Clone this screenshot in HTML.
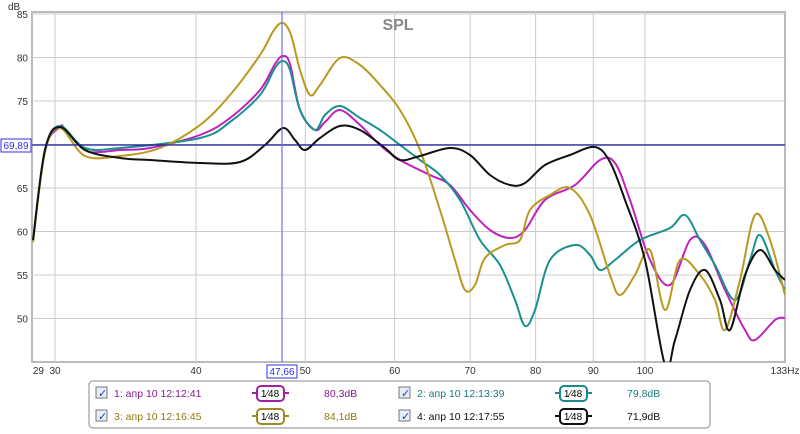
<!DOCTYPE html>
<html><head><meta charset="utf-8"><style>
body{margin:0;background:#fff;width:800px;height:429px;overflow:hidden;font-family:"Liberation Sans",sans-serif}
</style></head><body>
<svg id="s" width="800" height="429" xmlns="http://www.w3.org/2000/svg" font-family="Liberation Sans, sans-serif">
<defs><clipPath id="cp"><rect x="32" y="12" width="753" height="350"/></clipPath></defs>
<rect x="0" y="0" width="800" height="429" fill="#fff"/>
<rect x="32" y="12" width="753" height="350" fill="#fff" stroke="#bbb" stroke-width="2"/>
<g stroke="#ccc" stroke-width="1" id="grid"></g>
<text x="398" y="30" font-size="16" font-weight="bold" fill="#888" text-anchor="middle">SPL</text>
<g font-size="10" fill="#333" id="lbl"></g>
<text x="8" y="10" font-size="10" fill="#333">dB</text>
<g id="curves" fill="none" stroke-width="2" stroke-linejoin="round" clip-path="url(#cp)"></g>
<line x1="32" y1="145" x2="785" y2="145" stroke="#1a1aa0" stroke-width="1.2"/>
<line x1="282" y1="12" x2="282" y2="362" stroke="#7070e0" stroke-width="1.2"/>
<rect x="1" y="139" width="30" height="13" fill="#fff" stroke="#3030e0"/>
<text x="16" y="149" font-size="10" fill="#3030e0" text-anchor="middle">69,89</text>
<rect x="267" y="365" width="30" height="13" fill="#fff" stroke="#3030e0"/>
<text x="282" y="375" font-size="10" fill="#3030e0" text-anchor="middle">47,66</text>
<rect x="89" y="381" width="621" height="47" rx="4" fill="#fff" stroke="#888"/>
<g id="leg" font-size="10.5"></g>
</svg>
<script>
const s='http://www.w3.org/2000/svg';
function el(p,t,a,txt){const e=document.createElementNS(s,t);for(const k in a)e.setAttribute(k,a[k]);if(txt!==undefined)e.textContent=txt;document.getElementById(p).appendChild(e);return e;}
const X=f=>55+490*Math.log(f/30);
[30,40,50,60,70,80,90,100].forEach(f=>el('grid','line',{x1:X(f),y1:12,x2:X(f),y2:362}));
const Y=d=>14+(85-d)*8.7;
[85,80,75,70,65,60,55,50].forEach(d=>{el('grid','line',{x1:32,y1:Y(d),x2:785,y2:Y(d)});el('lbl','text',{x:28,y:Y(d)+4,'text-anchor':'end'},d);});
[29,30,40,50,60,70,80,90,100].forEach(f=>el('lbl','text',{x:X(f),y:374,'text-anchor':'middle'},f));
el('lbl','text',{x:785,y:374,'text-anchor':'middle'},'133Hz');
function path(p){let d='M'+p[0][0]+','+p[0][1];for(let i=0;i<p.length-1;i++){const p0=p[i-1]||p[i],p1=p[i],p2=p[i+1],p3=p[i+2]||p2;d+=' C'+(p1[0]+(p2[0]-p0[0])/6)+','+(p1[1]+(p2[1]-p0[1])/6)+' '+(p2[0]-(p3[0]-p1[0])/6)+','+(p2[1]-(p3[1]-p1[1])/6)+' '+p2[0]+','+p2[1];}return d;}
const C={
'#c020c0':[[33,242],[45,150],[60,127],[65,129],[85,150],[100,152],[120,150],[150,148],[200,135],[230,118],[260,90],[275,64],[283,56],[290,64],[300,110],[315,130],[325,122],[340,110],[360,125],[380,145],[400,160],[430,175],[450,185],[470,210],[490,230],[510,238],[525,230],[545,200],[575,185],[600,160],[615,163],[630,200],[650,260],[670,285],[690,240],[705,245],[725,290],[745,330],[755,340],[775,320],[785,318]],
'#1a9090':[[33,242],[45,150],[60,126],[85,148],[120,148],[200,138],[230,122],[260,95],[275,68],[283,61],[290,70],[300,110],[315,130],[325,115],[340,106],[360,118],[380,130],[400,145],[420,160],[440,175],[460,200],[480,240],[500,265],[515,300],[525,326],[535,310],[550,260],[575,245],[590,255],[600,270],[615,260],[640,240],[670,228],[685,215],[700,240],[715,265],[735,300],[750,260],[760,235],[775,270],[785,290]],
'#b89a20':[[33,242],[45,152],[60,128],[85,156],[120,156],[160,148],[200,125],[230,95],[260,55],[274,30],[283,23],[291,35],[300,70],[310,95],[320,85],[340,58],[360,65],[380,85],[400,110],[420,150],[440,210],[455,260],[465,290],[475,285],[485,258],[505,245],[520,240],[530,210],[550,195],[570,188],[590,215],[610,275],[620,295],[635,275],[650,250],[665,310],[680,260],[700,275],[715,300],[725,330],[740,280],[755,215],[770,240],[785,295]],
'#111':[[33,240],[45,150],[60,127],[85,150],[120,158],[150,160],[200,163],[240,162],[265,145],[283,128],[295,140],[305,150],[320,138],[340,126],[360,130],[385,148],[400,160],[420,156],[450,148],[470,155],[490,175],[510,185],[525,183],[545,165],[570,155],[595,147],[610,162],[625,200],[645,260],[665,365],[675,340],[690,290],[705,270],[720,300],[730,330],[745,275],[760,250],[775,270],[785,280]]};
for(const c in C)el('curves','path',{d:path(C[c]),stroke:c});
const L=[[96,393,'#8a1a8a','#a020a0','1: апр 10 12:12:41','80,3dB'],[399,393,'#1a7a7a','#1a8a8a','2: апр 10 12:13:39','79,8dB'],[96,416,'#8a7a10','#a08a20','3: апр 10 12:16:45','84,1dB'],[399,416,'#111','#111','4: апр 10 12:17:55','71,9dB']];
L.forEach(([x,y,tc,bc,t,v])=>{
el('leg','rect',{x:x,y:y-6,width:11,height:11,fill:'#e8eef8',stroke:'#777'});
el('leg','text',{x:x+2,y:y+4,fill:'#2040b0','font-size':11},'✓');
el('leg','text',{x:x+18,y:y+4,fill:tc},t);
const bx=x+161;el('leg','line',{x1:bx-5,y1:y,x2:bx+32,y2:y,stroke:bc,'stroke-width':2});
el('leg','rect',{x:bx,y:y-7,width:27,height:15,rx:4,fill:'#fff',stroke:bc,'stroke-width':2});
el('leg','text',{x:bx+13,y:y+4,'text-anchor':'middle',fill:'#000','font-size':10},'1⁄48');
el('leg','text',{x:x+228,y:y+4,fill:tc},v);
});
</script>
</body></html>
